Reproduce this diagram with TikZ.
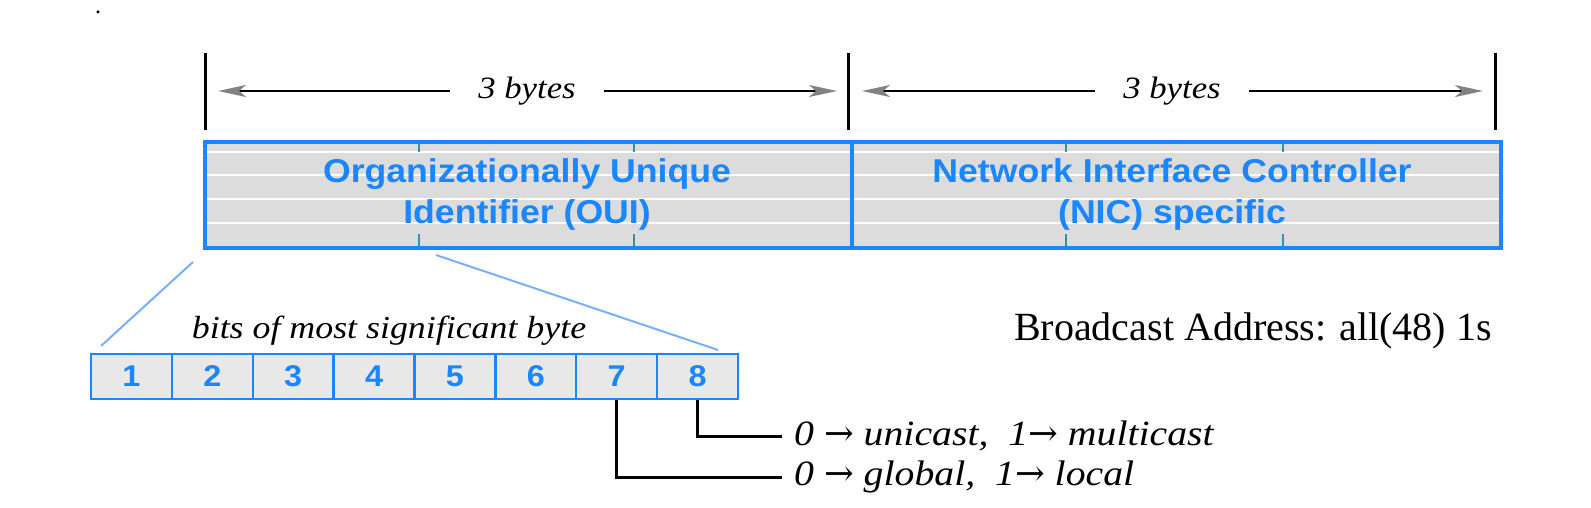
\documentclass[tikz,border=0pt]{standalone}
\usepackage{fontspec}
\setmainfont{Liberation Serif}
\newfontfamily\boxfont[FakeStretch=1.08]{Liberation Sans}
\newfontfamily\lblfont[FakeStretch=1.12]{Liberation Serif}
\newfontfamily\arrfont{DejaVu Serif}
\newcommand{\rarr}{{\arrfont\upshape →}}
\usetikzlibrary{arrows.meta}
\definecolor{macblue}{RGB}{26,134,255}
\definecolor{tickteal}{RGB}{58,143,168}
\definecolor{zoomblue}{RGB}{120,175,255}
\definecolor{fieldgray}{RGB}{220,220,220}
\definecolor{bitgray}{RGB}{232,232,232}
\definecolor{headgray}{RGB}{130,130,130}
\tikzset{
  fieldbox/.style={draw=macblue, line width=3.8pt, inner sep=0pt, minimum width=647pt, minimum height=106pt},
  fieldtext/.style={align=center, text=macblue, font=\boxfont\bfseries\fontsize{33}{40.5}\selectfont},
  bitcell/.style={draw=macblue, line width=2.4pt, fill=bitgray, inner sep=0pt, minimum width=80.875pt, minimum height=45pt, text=macblue, font=\boxfont\bfseries\fontsize{30}{34}\selectfont},
  barline/.style={line width=3pt, black},
  dimline/.style={line width=2.4pt, black, {Stealth[length=28pt,width=12pt,inset=7pt,fill=headgray,color=headgray]}-{Stealth[length=28pt,width=12pt,inset=7pt,fill=headgray,color=headgray]}},
  dimtext/.style={fill=white, inner xsep=28pt, font=\lblfont\itshape\fontsize{31}{36}\selectfont},
  legtext/.style={anchor=west, inner xsep=12pt, font=\lblfont\itshape\fontsize{35.5}{40}\selectfont},
  legline/.style={line width=3pt, black},
  zoomline/.style={line width=2pt, zoomblue},
  tick/.style={line width=2.4pt, tickteal},
}
\begin{document}
\begin{tikzpicture}[x=1pt,y=-1pt]
\useasboundingbox (0,0) rectangle (1591,508);
% stray dot
\node[circle, fill=black, inner sep=0pt, minimum size=3.5pt] (dot) at (98,12) {};
% dimension bars
\coordinate (t1a) at (205,53); \coordinate (t1b) at (205,130);
\coordinate (t2a) at (848,53); \coordinate (t2b) at (848,130);
\coordinate (t3a) at (1495,53); \coordinate (t3b) at (1495,130);
\draw[barline] (t1a) -- (t1b);
\draw[barline] (t2a) -- (t2b);
\draw[barline] (t3a) -- (t3b);
\coordinate (d1a) at (218,91); \coordinate (d1b) at (837,91);
\coordinate (d2a) at (862,91); \coordinate (d2b) at (1483,91);
\draw[dimline] (d1a) -- (d1b);
\draw[dimline] (d2a) -- (d2b);
\node[dimtext] (bytes1) at (527,91) {3 bytes};
\node[dimtext] (bytes2) at (1172,91) {3 bytes};
% field background
\fill[fieldgray] (203,140) rectangle (1499,246);
\foreach \yy in {152,175.5,199,222.5} \draw[white, line width=2pt] (203,\yy) -- (1499,\yy);
\foreach \xx in {419,634,1066,1283} {
  \draw[tick] (\xx,140) -- (\xx,152);
  \draw[tick] (\xx,234) -- (\xx,246);
}
\node[fieldbox, anchor=north west] (oui) at (203,140) {};
\node[fieldbox, anchor=north west, minimum width=649pt] (nic) at (850,140) {};
\node[fieldtext] (ouitext) at (527,194.5) {Organizationally Unique\\Identifier (OUI)};
\node[fieldtext] (nictext) at (1172,194.5) {Network Interface Controller\\(NIC) specific};
% broadcast
\node[font=\fontsize{40}{48}\selectfont] (bcast) at (1253,331) {Broadcast Address: all(48) 1s};
% bits
\node[font=\lblfont\itshape\fontsize{32}{38}\selectfont] (bitslbl) at (389,331) {bits of most significant byte};
\foreach \i in {1,...,8} \node[bitcell] (b\i) at ({91+80.875*(\i-0.5)},376.5) {\i};
% zoom lines
\coordinate (z1a) at (193,262); \coordinate (z1b) at (101,346);
\coordinate (z2a) at (436,255); \coordinate (z2b) at (718,350);
\draw[zoomline] (z1a) -- (z1b);
\draw[zoomline] (z2a) -- (z2b);
% legend
\node[legtext] (uni) at (782,436) {0 \rarr{} unicast,\ \ 1\rarr{} multicast};
\node[legtext] (glob) at (782,477) {0 \rarr{} global,\ \ 1\rarr{} local};
\draw[legline] (b8.south) |- (uni.west);
\draw[legline] (b7.south) |- (glob.west);
\end{tikzpicture}
\end{document}
